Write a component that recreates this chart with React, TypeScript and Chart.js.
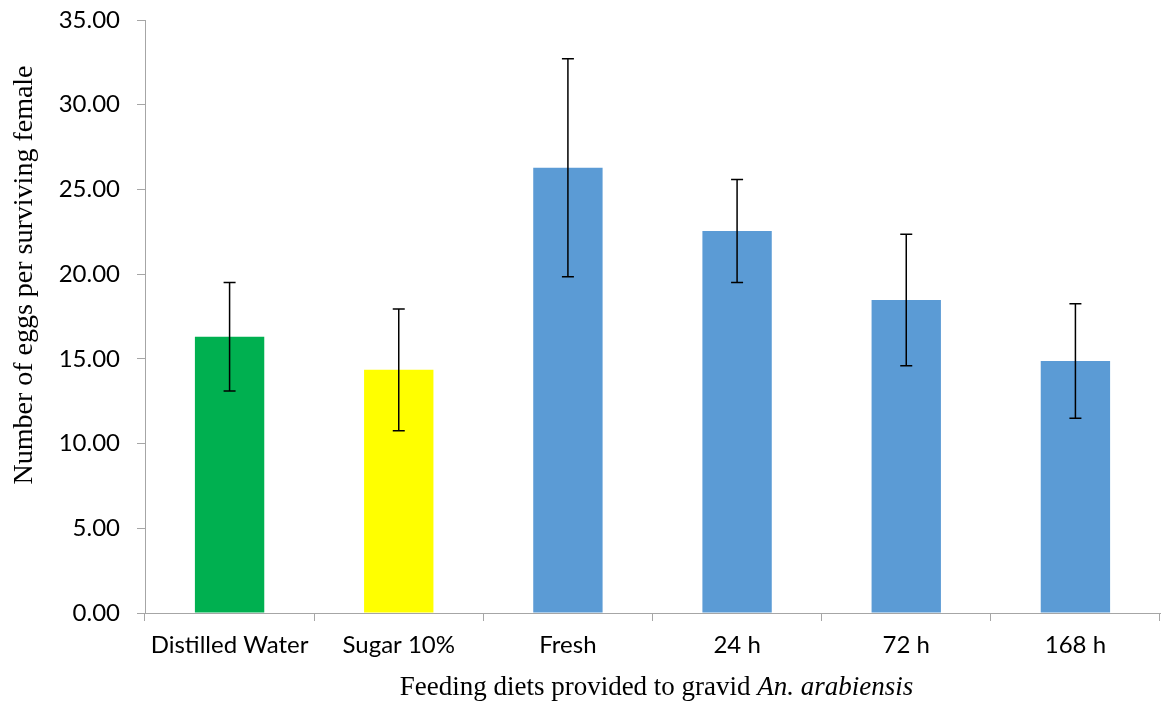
import React, { useEffect, useRef } from "react";
import { Chart, registerables } from "chart.js";

Chart.register(...registerables);

const categories = ["Distilled Water", "Sugar 10%", "Fresh", "24 h", "72 h", "168 h"];
const means = [16.3, 14.35, 26.28, 22.54, 18.48, 14.87];
const errors = [3.2, 3.6, 6.44, 3.04, 3.88, 3.38];
const barColors = ["#00B050", "#FFFF00", "#5B9BD5", "#5B9BD5", "#5B9BD5", "#5B9BD5"];

const yTitle = "Number of eggs per surviving female";
const xTitlePlain = "Feeding diets provided to gravid ";
const xTitleItalic = "An. arabiensis";

const tickFont = { family: "Lato", size: 24 };
const axisColor = "#a6a6a6";

const errorBarPlugin = {
  id: "errorBars",
  afterDatasetsDraw(chart: any) {
    const ctx = chart.ctx;
    const xs = chart.scales.x;
    const ys = chart.scales.y;
    ctx.save();
    ctx.strokeStyle = "#000000";
    ctx.lineWidth = 1.5;
    means.forEach((m, i) => {
      const x = xs.getPixelForValue(i);
      const yTop = ys.getPixelForValue(m + errors[i]);
      const yBot = ys.getPixelForValue(m - errors[i]);
      const cap = 6;
      ctx.beginPath();
      ctx.moveTo(x, yTop);
      ctx.lineTo(x, yBot);
      ctx.moveTo(x - cap, yTop);
      ctx.lineTo(x + cap, yTop);
      ctx.moveTo(x - cap, yBot);
      ctx.lineTo(x + cap, yBot);
      ctx.stroke();
    });
    ctx.restore();
  },
};

const titlesPlugin = {
  id: "titles",
  afterDraw(chart: any) {
    const ctx = chart.ctx;
    const area = chart.chartArea;
    ctx.save();
    ctx.fillStyle = "#000000";
    const fPlain = "27px 'Liberation Serif', 'Times New Roman', serif";
    const fItal = "italic 27px 'Liberation Serif', 'Times New Roman', serif";
    ctx.font = fPlain;
    const w1 = ctx.measureText(xTitlePlain).width;
    ctx.font = fItal;
    const w2 = ctx.measureText(xTitleItalic).width;
    const cx = (area.left + area.right) / 2 + 4;
    const x0 = cx - (w1 + w2) / 2;
    ctx.textBaseline = "alphabetic";
    ctx.textAlign = "left";
    ctx.font = fPlain;
    ctx.fillText(xTitlePlain, x0, 695);
    ctx.font = fItal;
    ctx.fillText(xTitleItalic, x0 + w1, 695);
    ctx.translate(25, 275);
    ctx.rotate(-Math.PI / 2);
    ctx.font = "28px 'Liberation Serif', 'Times New Roman', serif";
    ctx.textAlign = "center";
    ctx.textBaseline = "middle";
    ctx.fillText(yTitle, 0, 0);
    ctx.restore();
  },
};

export default function App() {
  const ref = useRef<HTMLCanvasElement>(null);

  useEffect(() => {
    if (!ref.current) return;
    const chart = new Chart(ref.current, {
      type: "bar",
      data: {
        labels: categories,
        datasets: [
          {
            data: means,
            backgroundColor: barColors,
            borderWidth: 0,
            categoryPercentage: 1,
            barPercentage: 0.41,
          },
        ],
      },
      options: {
        responsive: false,
        animation: false,
        devicePixelRatio: 1,
        layout: { padding: { left: 0, top: 20, right: 14, bottom: 0 } },
        plugins: {
          legend: { display: false },
          tooltip: { enabled: false },
        },
        scales: {
          x: {
            grid: {
              display: true,
              drawOnChartArea: false,
              drawTicks: true,
              tickLength: 8,
              color: axisColor,
              offset: true,
            },
            border: { color: axisColor, width: 1 },
            ticks: { font: tickFont, color: "#000000", padding: 10, maxRotation: 0 },
            afterFit(scale: any) {
              scale.height = 91;
              scale.paddingLeft = 0;
              scale.paddingRight = 0;
            },
          },
          y: {
            min: 0,
            max: 35,
            grid: {
              display: true,
              drawOnChartArea: false,
              drawTicks: true,
              tickLength: 8,
              color: axisColor,
            },
            border: { color: axisColor, width: 1 },
            ticks: {
              stepSize: 5,
              font: tickFont,
              color: "#000000",
              padding: 17,
              callback: (v: any) => Number(v).toFixed(2),
            },
            afterFit(scale: any) {
              scale.width = 145;
              scale.paddingTop = 0;
              scale.paddingBottom = 0;
            },
          },
        },
      },
      plugins: [errorBarPlugin, titlesPlugin],
    });
    return () => chart.destroy();
  }, []);

  return (
    <div style={{ position: "absolute", left: 0, top: 0, width: 1174, height: 704, background: "#fff" }}>
      <canvas ref={ref} width={1174} height={704} style={{ width: 1174, height: 704, display: "block" }} />
    </div>
  );
}
